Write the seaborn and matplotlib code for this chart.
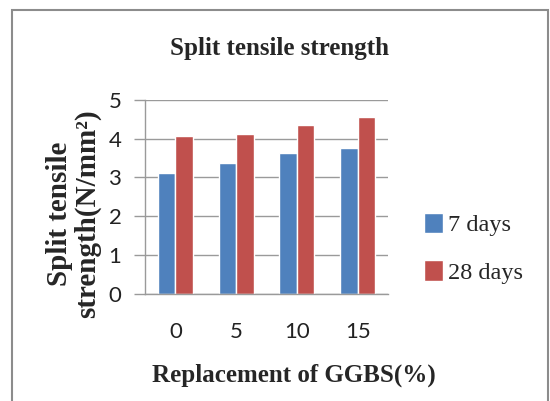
import matplotlib
matplotlib.use("Agg")
import matplotlib.pyplot as plt
import seaborn as sns
import pandas as pd
from matplotlib.patches import Rectangle

categories = ["0", "5", "10", "15"]
days7 = [3.12, 3.37, 3.62, 3.76]
days28 = [4.06, 4.12, 4.34, 4.56]
series_names = ["7 days", "28 days"]
yticks = [0, 1, 2, 3, 4, 5]

df = pd.DataFrame({
    "cat": categories * 2,
    "val": days7 + days28,
    "series": [series_names[0]] * 4 + [series_names[1]] * 4,
})

sns.set_theme(style="white")
plt.rcParams['font.family'] = ['Liberation Serif', 'DejaVu Serif']

fig = plt.figure(figsize=(5.5, 4.01), dpi=100)
ax = fig.add_axes([145/550, 1 - 293.8/401, 243/550, 194/401])

sns.barplot(data=df, x="cat", y="val", hue="series", order=categories,
            hue_order=series_names, palette=["#4F81BD", "#C0504D"],
            width=0.58, saturation=1, ax=ax, legend=True)

ax.set_ylim(0, 5)
ax.set_yticks(yticks)
ax.yaxis.grid(True, color="#9a9a9a", linewidth=1)
ax.set_axisbelow(True)
for s in ["top", "right"]:
    ax.spines[s].set_visible(False)
for s in ["left", "bottom"]:
    ax.spines[s].set_color("#9a9a9a")
    ax.spines[s].set_linewidth(1)
ax.tick_params(axis="y", which="major", length=8, color="#9a9a9a", width=1,
               direction="out", pad=9, left=True)
ax.tick_params(axis="x", length=0, pad=20)
for lab in ax.get_xticklabels() + ax.get_yticklabels():
    lab.set_fontfamily(["Lato", "DejaVu Sans"])
    lab.set_fontsize(16)
    lab.set_color("#222222")

ax.set_xlabel("Replacement of GGBS(%)", fontsize=18, fontweight="bold")
ax.xaxis.set_label_coords(0.613, -0.36)
ax.xaxis.label.set_va("top")
ax.set_ylabel("Split tensile\nstrength(N/mm²)", fontsize=21,
              fontweight="bold", linespacing=1.05)
ax.yaxis.set_label_coords(-0.181, 0.411)

fig.text(0.509, 1 - 49/401, "Split tensile strength", ha="center", va="center",
         fontsize=18, fontweight="bold")

leg = ax.legend(loc="center left", bbox_to_anchor=(1.06, 0.235), frameon=False,
                fontsize=17.5, handlelength=0.75, handleheight=0.9,
                handletextpad=0.2, labelspacing=1.0)

fig.add_artist(Rectangle((11.5/550, -0.05), (548 - 11.5)/550, 1.05 - 9.5/401,
                         transform=fig.transFigure, fill=False,
                         edgecolor="#8c8c8c", linewidth=1.5))

fig.savefig("out.png", dpi=100, facecolor="white")
